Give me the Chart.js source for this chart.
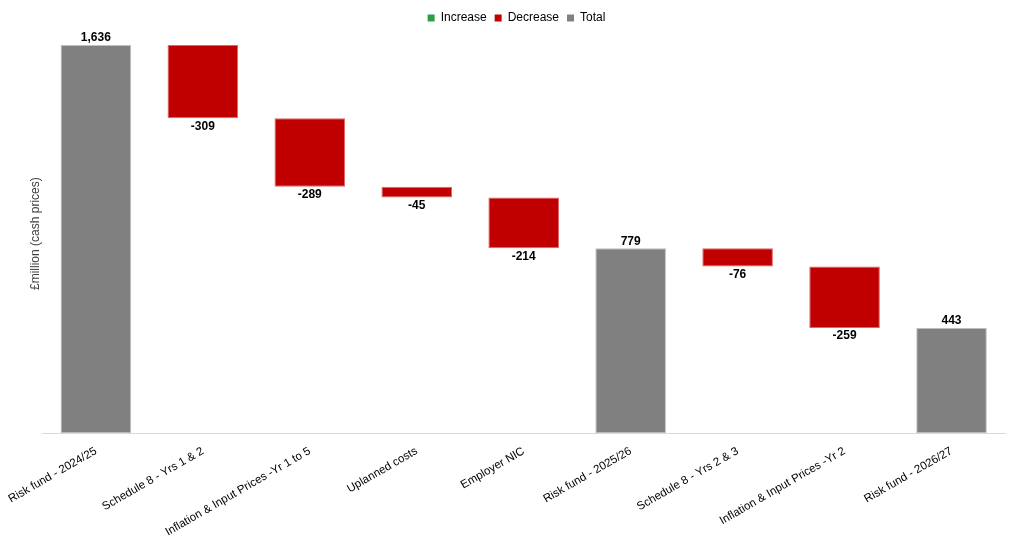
<!DOCTYPE html>
<html>
<head>
<meta charset="utf-8">
<script src="https://cdn.jsdelivr.net/npm/chart.js@4.4.1/dist/chart.umd.min.js"></script>
<style>
  html, body { margin: 0; padding: 0; background: #fff; }
  #wrap { width: 1011px; height: 542px; }
</style>
</head>
<body>
<div id="wrap"><canvas id="waterfall"></canvas></div>
<script>
const categories = [
  'Risk fund - 2024/25',
  'Schedule 8 - Yrs 1 & 2',
  'Inflation & Input Prices -Yr 1 to 5',
  'Uplanned costs',
  'Employer NIC',
  'Risk fund - 2025/26',
  'Schedule 8 - Yrs 2 & 3',
  'Inflation & Input Prices -Yr 2',
  'Risk fund - 2026/27'
];
const values = [1636, -309, -289, -45, -214, 779, -76, -259, 443];
const kinds = ['total', 'decrease', 'decrease', 'decrease', 'decrease', 'total', 'decrease', 'decrease', 'total'];

const colours = { increase: '#2E9E44', decrease: '#C00000', total: '#808080' };
const edges = { increase: '#7cc48a', decrease: '#e06666', total: '#bfbfbf' };

// build floating ranges from the running total
let running = 0;
const ranges = values.map((v, i) => {
  if (kinds[i] === 'total') {
    running = v;
    return [0, v];
  }
  const start = running;
  running += v;
  return [start, running];
});

const fontFamily = '"Liberation Sans", Arial, sans-serif';

const valueLabels = {
  id: 'valueLabels',
  afterDatasetsDraw(chart) {
    const ctx = chart.ctx;
    const meta = chart.getDatasetMeta(0);
    ctx.save();
    ctx.font = 'bold 12px ' + fontFamily;
    ctx.fillStyle = '#000';
    ctx.textAlign = 'center';
    meta.data.forEach((bar, i) => {
      const text = values[i].toLocaleString('en-GB');
      const top = Math.min(bar.y, bar.base);
      const bottom = Math.max(bar.y, bar.base);
      if (values[i] < 0) {
        ctx.textBaseline = 'top';
        ctx.fillText(text, bar.x, bottom + 2);
      } else {
        ctx.textBaseline = 'bottom';
        ctx.fillText(text, bar.x, top - 1);
      }
    });
    ctx.restore();
  }
};

new Chart(document.getElementById('waterfall'), {
  type: 'bar',
  data: {
    labels: categories,
    datasets: [{
      data: ranges,
      backgroundColor: kinds.map(k => colours[k]),
      borderColor: kinds.map(k => edges[k]),
      borderWidth: 1,
      borderSkipped: false,
      categoryPercentage: 1,
      barPercentage: 0.66
    }]
  },
  options: {
    responsive: true,
    maintainAspectRatio: false,
    animation: false,
    layout: { padding: { left: 28, right: 6, top: 4, bottom: 0 } },
    plugins: {
      tooltip: { enabled: false },
      legend: {
        position: 'top',
        labels: {
          boxWidth: 7,
          boxHeight: 7,
          padding: 8,
          color: '#404040',
          font: { family: fontFamily, size: 12 },
          generateLabels: () => ['increase', 'decrease', 'total'].map(k => ({
            text: k.charAt(0).toUpperCase() + k.slice(1),
            fillStyle: colours[k],
            strokeStyle: colours[k],
            lineWidth: 0,
            hidden: false
          }))
        }
      }
    },
    scales: {
      x: {
        grid: { display: false },
        border: { color: '#d9d9d9', width: 1 },
        // let the first rotated label hang into the left margin
        afterFit(scale) { scale.paddingLeft = 0; },
        ticks: {
          color: '#000',
          minRotation: 30,
          maxRotation: 30,
          font: { family: fontFamily, size: 11.5 }
        }
      },
      y: {
        min: 0,
        max: 1682,
        grid: { display: false, drawTicks: false },
        border: { display: false },
        ticks: { display: false, padding: 0 },
        title: {
          display: true,
          text: '£million (cash prices)',
          color: '#404040',
          padding: { top: 0, bottom: 0 },
          font: { family: fontFamily, size: 12 }
        }
      }
    }
  },
  plugins: [valueLabels]
});
</script>
</body>
</html>
